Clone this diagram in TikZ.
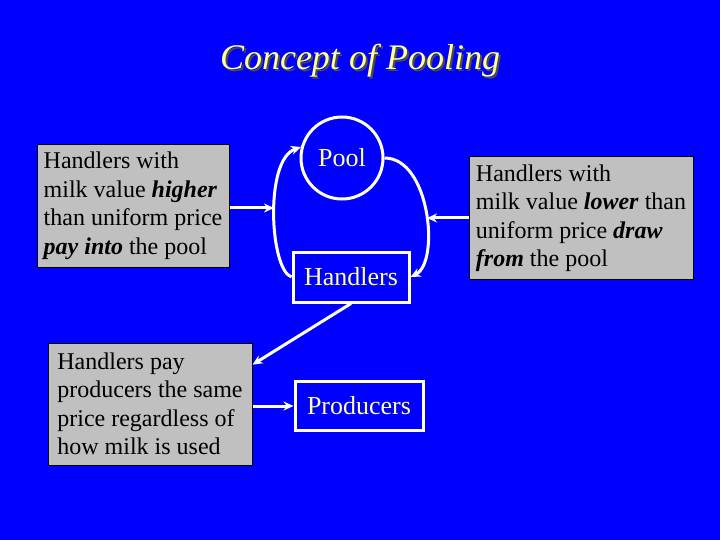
\documentclass[tikz,border=0pt]{standalone}
\usepackage{fontspec}
\setmainfont{Liberation Serif}
\usetikzlibrary{arrows.meta}
\definecolor{slideblue}{RGB}{0,0,255}
\definecolor{paleyellow}{RGB}{255,255,153}
\definecolor{notegray}{RGB}{192,192,192}
\begin{document}
\begin{tikzpicture}[x=1pt, y=-1pt,
    note/.style={draw=black, line width=1pt, fill=notegray, inner sep=4pt, align=left, anchor=center,
        minimum height=122pt, font=\fontsize{24}{28.5}\selectfont},
    flowbox/.style={draw=white, line width=3pt, text=paleyellow, font=\fontsize{26}{30}\selectfont},
    flow/.style={draw=white, line width=3pt, -{Stealth[length=10pt,width=9pt]}}]
        \fill[slideblue] (0,0) rectangle (720,540);
        \useasboundingbox (0,0) rectangle (720,540);
        % title with its shadow
        \node[text=black!70, font=\fontsize{36}{40}\selectfont\itshape] at (362,63) {Concept of Pooling};
        \node[text=paleyellow, font=\fontsize{36}{40}\selectfont\itshape] (title) at (360,61) {Concept of Pooling};
        % middle column
        \node[flowbox, circle, minimum size=82pt, inner sep=0pt] (pool) at (342,158) {Pool};
        \node[flowbox, minimum width=116pt, minimum height=50pt, inner sep=0pt] (handlers) at (351,277) {Handlers};
        \node[flowbox, minimum width=128pt, minimum height=49pt, inner sep=0pt] (producers) at (359,406) {Producers};
        % side notes
        \node[note, minimum width=192pt] (payin) at (133,206) {Handlers with\\milk value \textbf{\textit{higher}}\\than uniform price\\\textbf{\textit{pay into}} the pool};
        \node[note, minimum width=204pt] (samepay) at (150,404) {Handlers pay\\producers the same\\price regardless of\\how milk is used};
        \node[note, minimum width=224pt] (drawout) at (581,218) {Handlers with\\milk value \textbf{\textit{lower}} than\\uniform price \textbf{\textit{draw}}\\\textbf{\textit{from}} the pool};
        % loop round the pool
        \draw[flow] (handlers.west) .. controls (270,270) and (264,160) .. (pool.165);
        \draw[flow] (pool.east) .. controls (430,158) and (440,262) .. (handlers.east);
        \coordinate (intoloop) at (274,208);
        \coordinate (fromloop) at (427,218);
        \draw[flow] (payin.east |- intoloop) -- (intoloop);
        \draw[flow] (drawout.west |- fromloop) -- (fromloop);
        \draw[flow] (handlers.south) -- (samepay.21);
        \draw[flow] (samepay.east |- producers.west) -- (producers.west);
    \end{tikzpicture}
\end{document}
